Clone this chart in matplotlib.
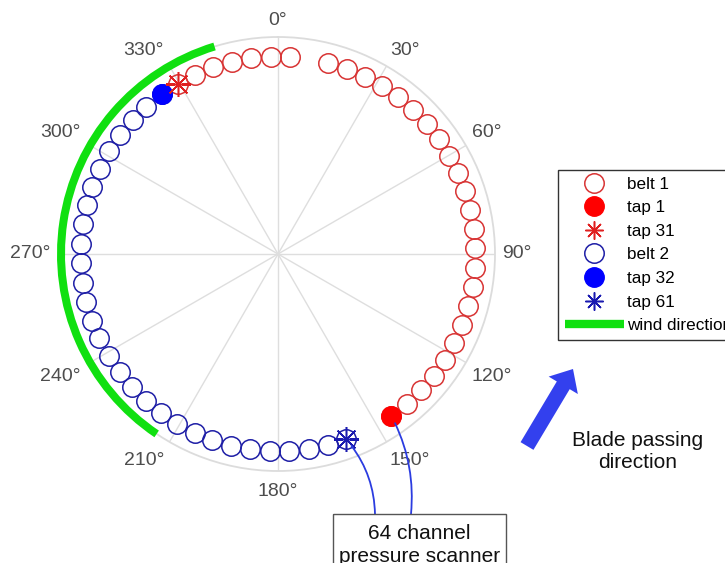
import numpy as np
import matplotlib
matplotlib.use("Agg")
import matplotlib.pyplot as plt
from matplotlib.lines import Line2D
from matplotlib.patches import FancyArrow, Rectangle, ConnectionPatch

plt.rcParams["font.family"] = ["Liberation Sans", "DejaVu Sans"]

# tap angles around the section (deg, clockwise from top)
belt1_theta = [145.0, 139.3, 133.7, 128.0, 122.4, 116.7, 111.0, 105.4, 99.7,
               94.1, 88.4, 82.7, 77.1, 71.4, 65.8, 60.1, 54.4, 48.8, 43.1,
               37.5, 31.8, 26.1, 20.5, 14.8, 3.5, 357.9, 352.2, 346.5, 340.9,
               335.2, 329.6]
belt2_theta = [323.9, 318.2, 312.6, 306.9, 301.3, 295.6, 289.9, 284.3, 278.6,
               273.0, 267.3, 261.6, 256.0, 250.3, 244.7, 239.0, 233.3, 227.7,
               222.0, 216.4, 210.7, 205.0, 199.4, 193.7, 188.1, 182.4, 176.7,
               171.1, 165.4, 159.8]
tap_r = 0.91
wind_theta = [214.0, 343.0]
wind_r = 1.0
theta_ticks = [0, 30, 60, 90, 120, 150, 180, 210, 240, 270, 300, 330]

RED_OPEN = "#d83434"
BLUE_OPEN = "#1e1ea6"
GREEN = "#10e010"
CONNECT = "#2b3ce0"

fig = plt.figure(figsize=(7.25, 5.63), dpi=100)
ax = fig.add_axes([61 / 725, 1 - 471 / 563, 434 / 725, 434 / 563], projection="polar")
ax.set_theta_zero_location("N")
ax.set_theta_direction(-1)
ax.set_rlim(0, 1)
ax.set_yticks([])
ax.set_xticks(np.deg2rad(theta_ticks))
ax.set_xticklabels([])
ax.tick_params(length=0)
ax.grid(True, color="#dedede", lw=1.0)
ax.spines["polar"].set_color("#dcdcdc")
ax.spines["polar"].set_linewidth(1.3)

# degree labels sit just outside the rim, aligned by direction
for t in theta_ticks:
    s, c = np.sin(np.deg2rad(t)), np.cos(np.deg2rad(t))
    ha = "center" if abs(s) < 0.01 else ("left" if s > 0 else "right")
    va = "center" if abs(c) < 0.01 else ("bottom" if c > 0 else "top")
    px = 5.0 if s > 0 else 8.0
    py = 5.8 if c > 0 else 8.6
    ax.annotate(f"{t}°", xy=(np.deg2rad(t), 1.0), xytext=(px * s, py * c),
                textcoords="offset points", ha=ha, va=va, fontsize=14,
                color="#4d4d4d", annotation_clip=False)

b1 = np.deg2rad(belt1_theta)
b2 = np.deg2rad(belt2_theta)
r1 = np.full(len(b1), tap_r)
r2 = np.full(len(b2), tap_r)

# wind sector as a thin polar bar on the rim
band = 8 / 217
w0, w1 = np.deg2rad(wind_theta)
ax.bar(w0, band, width=w1 - w0, bottom=wind_r - band / 2, align="edge",
       color=GREEN, lw=0, clip_on=False, zorder=3)

h_b1, = ax.plot(b1, r1, "o", ms=14, mfc="none", mec=RED_OPEN, mew=1.1, zorder=4)
h_b2, = ax.plot(b2, r2, "o", ms=14, mfc="none", mec=BLUE_OPEN, mew=1.1, zorder=4)
h_t1, = ax.plot(b1[:1], r1[:1], "o", ms=14, mfc="#ff0000", mec="#ff0000", zorder=5)
h_t32, = ax.plot(b2[:1], r2[:1], "o", ms=14, mfc="#0000ff", mec="#0000ff", zorder=5)
ax.plot(b1[-1:], r1[-1:], marker=(8, 2, 0), ms=18, ls="none",
        mec="#e02020", mew=1.1, zorder=5)
ax.plot(b2[-1:], r2[-1:], marker=(8, 2, 0), ms=18, ls="none",
        mec="#1a1ab0", mew=1.1, zorder=5)

# overlay in pixel units for the annotations
ov = fig.add_axes([0, 0, 1, 1], zorder=10)
ov.set_xlim(0, 725)
ov.set_ylim(563, 0)
ov.axis("off")
ov.patch.set_alpha(0)

ov.add_patch(FancyArrow(527, 446, 46, -77, width=15, head_width=34, head_length=19,
                        length_includes_head=True, color="#3340ee", lw=0))
ov.text(638, 452, "Blade passing\ndirection", ha="center", va="center",
        fontsize=15, linespacing=1.2, color="#111111")

ov.add_patch(Rectangle((333, 514), 173, 80, fill=False, ec="#555555", lw=1.0,
                       clip_on=False))
ov.text(419.5, 524, "64 channel\npressure scanner", ha="center", va="top",
        fontsize=15, linespacing=1.27, color="#111111")

for th, end, rad in [(b2[-1], (375, 514), -0.18), (b1[0], (411, 514), -0.15)]:
    con = ConnectionPatch(xyA=(th, tap_r), coordsA=ax.transData, xyB=end,
                          coordsB=ov.transData, color=CONNECT, lw=1.3,
                          shrinkA=6, shrinkB=0,
                          connectionstyle=f"arc3,rad={rad}", zorder=2)
    fig.add_artist(con)

handles = [h_b1, h_t1,
           Line2D([], [], marker=(8, 2, 0), ms=13, ls="none", mec="#e02020", mew=1.1),
           h_b2, h_t32,
           Line2D([], [], marker=(8, 2, 0), ms=13, ls="none", mec="#1a1ab0", mew=1.1),
           Line2D([], [], color=GREEN, lw=6, solid_capstyle="butt")]
labels = ["belt 1", "tap 1", "tap 31", "belt 2", "tap 32", "tap 61", "wind direction"]
leg = fig.legend(handles, labels, loc="upper left",
                 bbox_to_anchor=(558 / 725, 1 - 170 / 563), borderaxespad=0,
                 fontsize=12.3, handlelength=3.45, handletextpad=0.2,
                 labelspacing=0.5, borderpad=0.4, fancybox=False,
                 edgecolor="#333333", framealpha=1, numpoints=1)
leg.get_frame().set_linewidth(1.0)

fig.savefig("out.png", dpi=100)
